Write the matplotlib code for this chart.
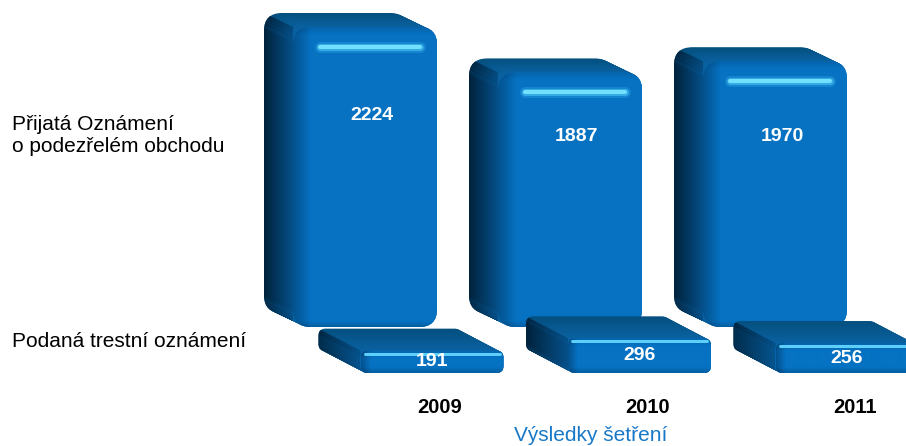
import numpy as np
import matplotlib.pyplot as plt
from matplotlib.patches import FancyBboxPatch, Polygon
from matplotlib.colors import to_rgb

plt.rcParams['font.family'] = ['Liberation Sans', 'DejaVu Sans']

years = ['2009', '2010', '2011']
prijata = [2224, 1887, 1970]   # Přijatá Oznámení o podezřelém obchodu
podana = [191, 296, 256]       # Podaná trestní oznámení
prijata_label_y = [1565, 1415, 1410]

W, H = 906, 446
fig = plt.figure(figsize=(W / 100, H / 100), dpi=100)

# the two depth rows of the 3d chart (pixel layout)
back = dict(x0=365, step=205, base=327, sy=300 / 2224, width=144, depth=(29, 14), r=18)
front = dict(x0=432, step=207.5, base=373, sy=0.117, width=143, depth=(42, 22), r=7)

face_c = '#0672c2'
face_dark = '#023f70'
top_back, top_front = '#04507f', '#0a62a2'
left_back, left_front = '#00223c', '#05508a'


def mix(c1, c2, t):
    a, b = np.array(to_rgb(c1)), np.array(to_rgb(c2))
    return tuple(a + (b - a) * t)


def row_axes(row):
    ax = fig.add_axes([0, 0, 1, 1])
    ax.axis('off')
    return ax


def set_limits(ax, row):
    ax.set_xlim(-row['x0'] / row['step'], (W - row['x0']) / row['step'])
    ax.set_ylim(-(H - row['base']) / row['sy'], row['base'] / row['sy'])


def draw_bar(ax, row, x, v, big):
    step, sy = row['step'], row['sy']
    w = row['width'] / step
    dx, dy = row['depth'][0] / step, row['depth'][1] / sy
    rnd = "round,pad=0,rounding_size=%f" % (row['r'] / step)
    asp = step / sy
    xl = x - w / 2
    n = row['depth'][0]

    # region left of / below the depth diagonal -> dark side face
    p0 = np.array([xl, v])
    d = np.array([-dx, dy])
    a = p0 + 4 * d
    clip = Polygon([a, p0, (xl, -1e5), (a[0] - 1, -1e5), (a[0] - 1, a[1])],
                   closed=True, transform=ax.transData)
    for k in range(n + 1):
        t = k / n
        pos = (xl - dx * (1 - t), dy * (1 - t))
        ax.add_patch(FancyBboxPatch(pos, w, v, boxstyle=rnd, mutation_aspect=asp,
                                    fc=mix(top_back, top_front, t), ec='none'))
        side = FancyBboxPatch(pos, w, v, boxstyle=rnd, mutation_aspect=asp,
                              fc=mix(left_back, left_front, t), ec='none')
        ax.add_patch(side)
        side.set_clip_path(clip)

    face = FancyBboxPatch((xl, 0), w, v, boxstyle=rnd, mutation_aspect=asp,
                          fc=face_c, ec='none')
    ax.add_patch(face)
    nx = row['width']
    ny = max(int(round(v * sy)), 2)
    X = np.arange(nx)[None, :] + 0.5
    Y = np.arange(ny)[:, None] + 0.5
    bev = 18 if big else 10
    shade = (np.clip(1 - X / bev, 0, 1) * 0.65 + np.clip(1 - Y / 8, 0, 1) * 0.3
             + np.clip(1 - (ny - Y) / 6, 0, 1) * 0.4)
    shade = np.clip(shade, 0, 0.8)[..., None]
    img = (1 - shade) * np.array(to_rgb(face_c)) + shade * np.array(to_rgb(face_dark))
    im = ax.imshow(img, extent=[xl, xl + w, 0, v], aspect='auto',
                   interpolation='bilinear', zorder=1)
    im.set_clip_path(face)

    if big:
        yh = v - 20 / sy
        xs = [xl + 27 / step, xl + w - 17 / step]
        ax.plot(xs, [yh, yh], color='#3ab4f0', lw=11 * 0.72, alpha=0.3,
                solid_capstyle='round', zorder=1)
        ax.plot(xs, [yh, yh], color='#4cc6f6', lw=7 * 0.72, alpha=0.6,
                solid_capstyle='round', zorder=1)
        ax.plot(xs, [yh, yh], color='#72e0ff', lw=4 * 0.72,
                solid_capstyle='round', zorder=1)
    else:
        yh = v - 3 / sy
        xs = [xl + 4 / step, xl + w - 4 / step]
        ax.plot(xs, [yh, yh], color='#5cd0fa', lw=3 * 0.72,
                solid_capstyle='round', zorder=1)


ax_b = row_axes(back)
for i, v in enumerate(prijata):
    draw_bar(ax_b, back, i, v, True)
    ax_b.text(i + 7 / back['step'], prijata_label_y[i], str(v), color='white',
              fontsize=14, fontweight='bold', ha='center', va='center', zorder=5)
set_limits(ax_b, back)

ax_f = row_axes(front)
for i, v in enumerate(podana):
    draw_bar(ax_f, front, i, v, False)
    ax_f.text(i, v / 2, str(v), color='white', fontsize=14, fontweight='bold',
              ha='center', va='center', zorder=5)
    ax_f.text(i + 8 / front['step'], -40 / front['sy'], years[i], color='black',
              fontsize=14.5, fontweight='bold', ha='center', va='baseline')
set_limits(ax_f, front)

fig.text(12 / W, 1 - 129.5 / H, 'Přijatá Oznámení', fontsize=15, va='baseline')
fig.text(12 / W, 1 - 151.5 / H, 'o podezřelém obchodu', fontsize=15, va='baseline')
fig.text(12 / W, 1 - 347 / H, 'Podaná trestní oznámení', fontsize=15, va='baseline')
fig.text(591 / W, 1 - 441 / H, 'Výsledky šetření', color='#1878c8', fontsize=15,
         ha='center', va='baseline')

fig.savefig('out.png', dpi=100)
